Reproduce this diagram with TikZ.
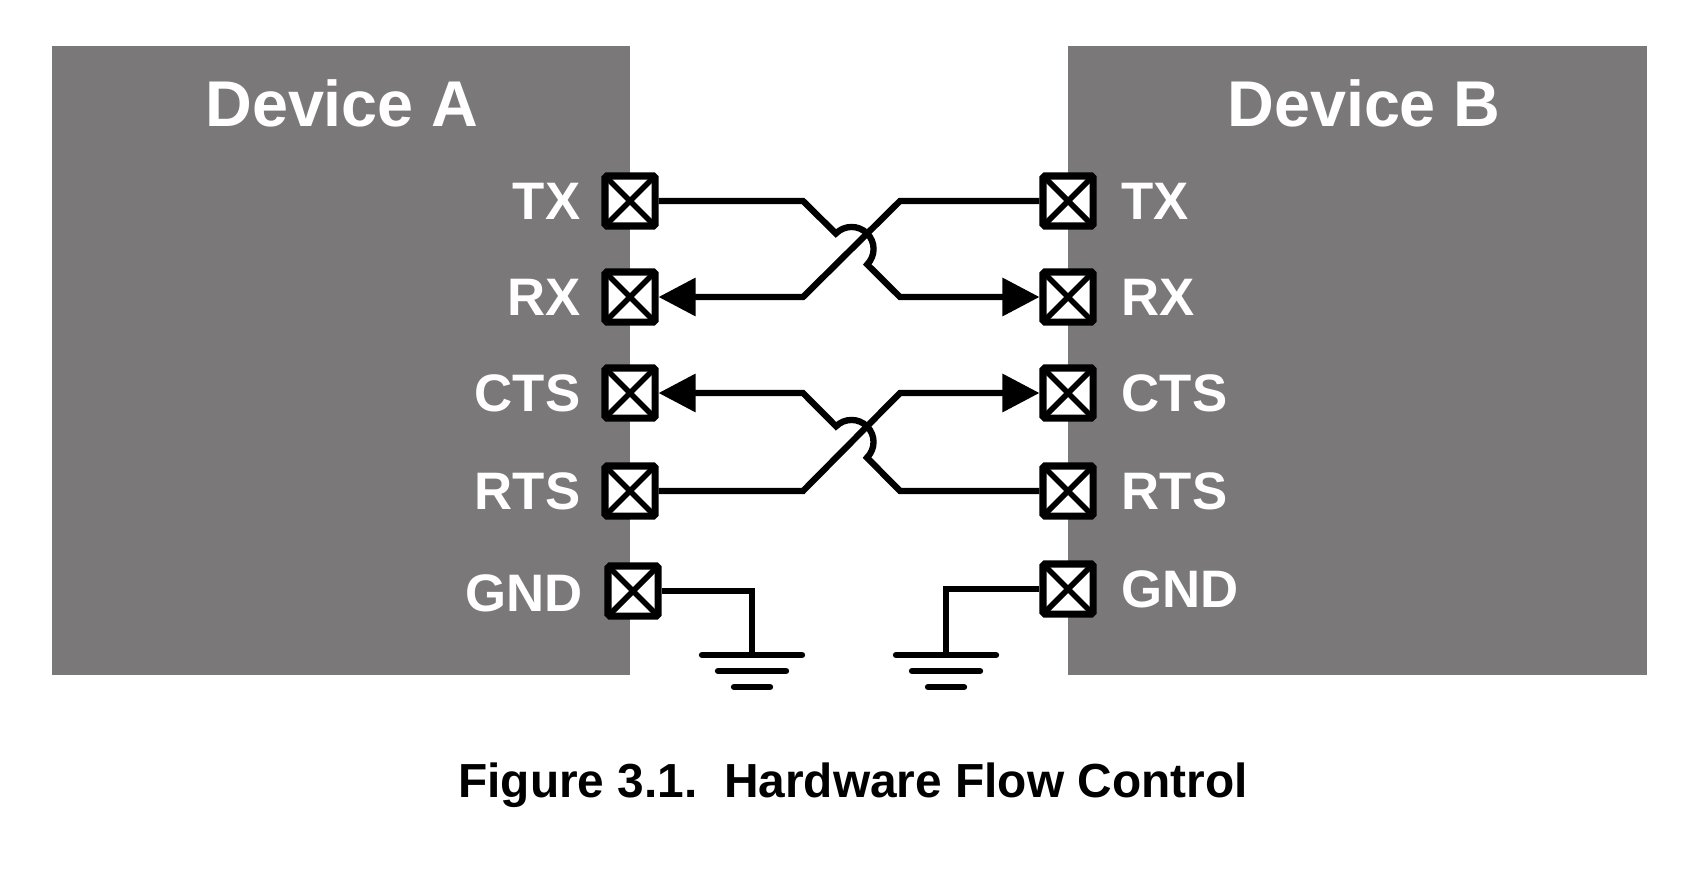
\documentclass[tikz,border=0pt]{standalone}
\usepackage{fontspec}
\setmainfont{Liberation Sans}
\usetikzlibrary{arrows.meta}
\definecolor{devgray}{HTML}{7A7879}
\tikzset{
  pin/.style={draw, line width=2pt, fill=white, rounded corners=0.5pt,
    minimum size=0.5cm, inner sep=0pt,
    path picture={\draw[line width=1.6pt] (path picture bounding box.south west) -- (path picture bounding box.north east)
      (path picture bounding box.north west) -- (path picture bounding box.south east);}},
  wire/.style={line width=1.8pt},
  tip/.style={-{Triangle[length=0.37cm,width=0.37cm]}},
  pinlabel/.style={text=white, font=\fontsize{15}{15}\selectfont\bfseries, inner sep=0pt},
  devlabel/.style={text=white, font=\fontsize{18.4}{20}\selectfont\bfseries, inner sep=0pt},
}
\begin{document}
\begin{tikzpicture}[x=0.01cm, y=0.01cm]
		\useasboundingbox (0,0) rectangle (1695,869);
		% Devices
		\fill[devgray] (52,194) rectangle (630,823);
		\fill[devgray] (1068,194) rectangle (1647,823);
		\node[devlabel] (DevA) at (342,766) {Device A};
		\node[devlabel] (DevB) at (1364,766) {Device B};
		% Pins of A
		\node[pin] (TXa) at (630,668) {};
		\node[pin] (RXa) at (630,572) {};
		\node[pin] (CTSa) at (630,476) {};
		\node[pin] (RTSa) at (630,378) {};
		\node[pin] (GNDa) at (633,278) {};
		\node[pinlabel, anchor=east] at (581,668) {TX};
		\node[pinlabel, anchor=east] at (581,572) {RX};
		\node[pinlabel, anchor=east] at (581,476) {CTS};
		\node[pinlabel, anchor=east] at (581,378) {RTS};
		\node[pinlabel, anchor=east] at (583,276) {GND};
		% Pins of B
		\node[pin] (TXb) at (1068,668) {};
		\node[pin] (RXb) at (1068,572) {};
		\node[pin] (CTSb) at (1068,476) {};
		\node[pin] (RTSb) at (1068,378) {};
		\node[pin] (GNDb) at (1068,280) {};
		\node[pinlabel, anchor=west] at (1121,668) {TX};
		\node[pinlabel, anchor=west] at (1121,572) {RX};
		\node[pinlabel, anchor=west] at (1121,476) {CTS};
		\node[pinlabel, anchor=west] at (1121,378) {RTS};
		\node[pinlabel, anchor=west] at (1121,280) {GND};
		% Crossed wires
		\draw[wire, tip] (TXa.east) -- (803,668) -- (835.9,635.5) arc[start angle=135.3, end angle=-44.7, radius=0.22cm] -- (900,572) -- (RXb.west);
		\draw[wire, tip] (TXb.west) -- (900,668) -- (803,572) -- (RXa.east);
		\draw[wire, tip] (RTSb.west) -- (900,378) -- (867,411.4) arc[start angle=-45.3, end angle=134.7, radius=0.22cm] -- (803,476) -- (CTSa.east);
		\draw[wire, tip] (RTSa.east) -- (803,378) -- (900,476) -- (CTSb.west);
		% Grounds
		\draw[wire] (GNDa.east) -| (752,214) coordinate (gA);
		\draw[wire] (GNDb.west) -| (946,214) coordinate (gB);
		\foreach \g in {gA,gB} {
			\draw[wire, line cap=round] ([xshift=-0.5cm]\g) -- ([xshift=0.5cm]\g);
			\draw[wire, line cap=round] ([xshift=-0.34cm,yshift=-0.16cm]\g) -- ([xshift=0.34cm,yshift=-0.16cm]\g);
			\draw[wire, line cap=round] ([xshift=-0.18cm,yshift=-0.32cm]\g) -- ([xshift=0.18cm,yshift=-0.32cm]\g);
		}
		% Caption
		\node[font=\fontsize{13.6}{15}\selectfont\bfseries, inner sep=0pt] (Cap) at (853,84) {Figure 3.1.\ \ Hardware Flow Control};
	\end{tikzpicture}
\end{document}
